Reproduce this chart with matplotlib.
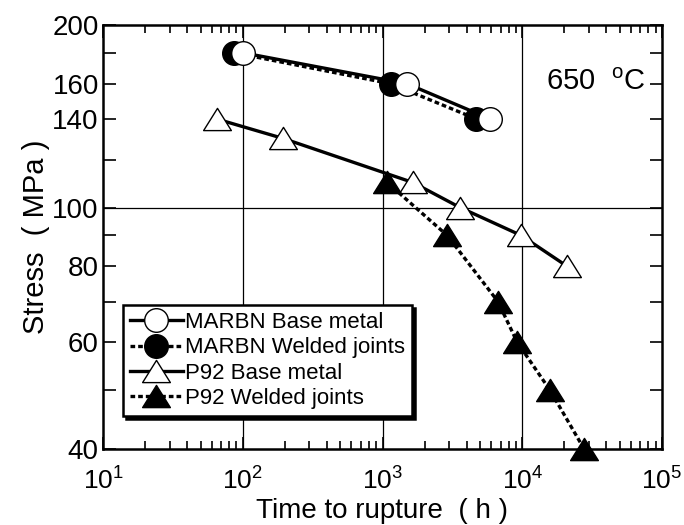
import matplotlib
matplotlib.use('Agg')
import matplotlib.pyplot as plt
from matplotlib.path import Path
from matplotlib.ticker import FixedLocator, NullFormatter, LogLocator, FixedFormatter

plt.rcParams['font.family'] = ['Liberation Sans', 'DejaVu Sans']
plt.rcParams['mathtext.fontset'] = 'custom'
plt.rcParams['mathtext.rm'] = 'Liberation Sans'
plt.rcParams['mathtext.it'] = 'Liberation Sans:italic'

# Data (time to rupture in h, stress in MPa)
marbn_base_t = [100, 1500, 5900]
marbn_base_s = [180, 160, 140]
marbn_weld_t = [87, 1150, 4700]
marbn_weld_s = [180, 160, 140]
p92_base_t = [65, 195, 1650, 3600, 9800, 21000]
p92_base_s = [140, 130, 110, 100, 90, 80]
p92_weld_t = [1080, 2900, 6700, 9200, 15800, 27700]
p92_weld_s = [110, 90, 70, 60, 50, 40]

y_major = [40, 60, 80, 100, 140, 160, 200]
y_minor = [50, 70, 90, 120, 180]
x_major = [10, 100, 1000, 10000, 100000]
x_labels = [r'$\mathregular{10^{1}}$', r'$\mathregular{10^{2}}$', r'$\mathregular{10^{3}}$',
            r'$\mathregular{10^{4}}$', r'$\mathregular{10^{5}}$']

tri = Path([(0, 0.8), (-1, -0.8), (1, -0.8), (0, 0.8)],
           [Path.MOVETO, Path.LINETO, Path.LINETO, Path.CLOSEPOLY])

fig = plt.figure(figsize=(6.84, 5.25), dpi=100)
ax = fig.add_axes([103/684, 1-449/525, 559/684, 424/525])
ax.set_xscale('log')
ax.set_yscale('log')
ax.set_xlim(10, 1e5)
ax.set_ylim(40, 200)

# grid
for xv in [100, 1000, 10000]:
    ax.axvline(xv, color='black', lw=0.9, zorder=1)
ax.axhline(100, color='black', lw=0.9, zorder=1)

lw = 2.4
dot = (0, (1.4, 0.9))
ms_c = 17
ms_t = 20

ax.plot(p92_base_t, p92_base_s, color='black', lw=lw, ls='-', marker=tri, ms=ms_t,
        mfc='white', mec='black', mew=1.0, label='P92 Base metal', zorder=3, clip_on=False)
ax.plot(p92_weld_t, p92_weld_s, color='black', lw=lw, ls=dot, marker=tri, ms=ms_t,
        mfc='black', mec='black', mew=1.0, label='P92 Welded joints', zorder=3, clip_on=False)
ax.plot(marbn_weld_t, marbn_weld_s, color='black', lw=lw, ls=dot, marker='o', ms=ms_c,
        mfc='black', mec='black', mew=1.0, label='MARBN Welded joints', zorder=3)
ax.plot(marbn_base_t, marbn_base_s, color='black', lw=lw, ls='-', marker='o', ms=ms_c,
        mfc='white', mec='black', mew=1.0, label='MARBN Base metal', zorder=4)

# ticks
ax.yaxis.set_major_locator(FixedLocator(y_major))
ax.yaxis.set_major_formatter(FixedFormatter([str(v) for v in y_major]))
ax.yaxis.set_minor_locator(FixedLocator(y_minor))
ax.yaxis.set_minor_formatter(NullFormatter())
ax.xaxis.set_major_locator(FixedLocator(x_major))
ax.xaxis.set_major_formatter(FixedFormatter(x_labels))
ax.xaxis.set_minor_locator(LogLocator(base=10, subs=range(2, 10)))
ax.xaxis.set_minor_formatter(NullFormatter())
ax.tick_params(which='both', direction='in', top=True, right=True, width=1.2)
ax.tick_params(which='major', length=9)
ax.tick_params(axis='y', which='minor', length=9)
ax.tick_params(axis='x', which='minor', length=6)
ax.tick_params(axis='y', which='major', labelsize=20, pad=3)
ax.tick_params(axis='x', which='major', labelsize=19, pad=13)
for s in ax.spines.values():
    s.set_linewidth(1.8)

ax.set_ylabel('Stress  ( MPa )', fontsize=21, labelpad=2)
ax.set_xlabel('Time to rupture  ( h )', fontsize=20, labelpad=3)

ax.text(0.97, 0.8656, r'650  $^{\mathregular{o}}$C', transform=ax.transAxes, fontsize=21,
        ha='right', va='center')

h, l = ax.get_legend_handles_labels()
order = [3, 2, 0, 1]
leg = ax.legend([h[i] for i in order], [l[i] for i in order], loc='lower left',
                bbox_to_anchor=(0.036, 0.078), fontsize=16, frameon=True, fancybox=False,
                handlelength=2.4, handletextpad=0.1, labelspacing=0.2, borderpad=0.3,
                borderaxespad=0, shadow={'color': 'black', 'alpha': 1.0})
leg.get_frame().set_edgecolor('black')
leg.get_frame().set_linewidth(1.8)
leg.set_zorder(10)

fig.savefig('out.png', dpi=100)
